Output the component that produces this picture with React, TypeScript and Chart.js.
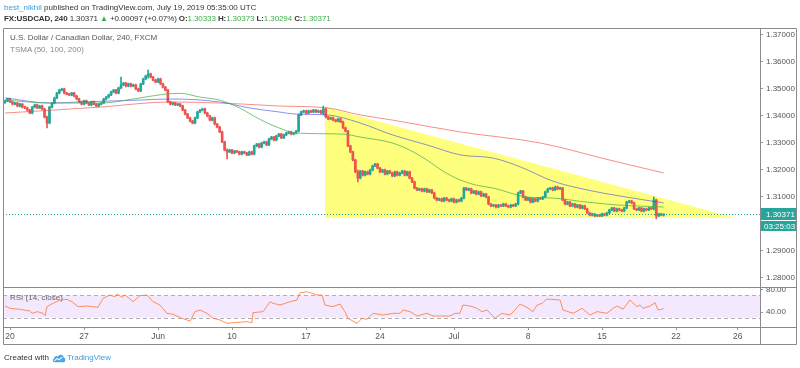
import React, { useEffect, useRef } from "react";
import { Chart, registerables } from "chart.js";

Chart.register(...registerables);

// ---------- data ----------
const closes = [
  1.3456, 1.3463, 1.3452, 1.3444, 1.3448, 1.3437, 1.3444, 1.3433, 1.3430, 1.3422,
  1.3411, 1.3433, 1.3441, 1.3430, 1.3437, 1.3426, 1.3396, 1.3374, 1.3433, 1.3448,
  1.3467, 1.3485, 1.3496, 1.3500, 1.3485, 1.3481, 1.3478, 1.3485, 1.3474, 1.3463,
  1.3452, 1.3444, 1.3456, 1.3448, 1.3441, 1.3452, 1.3444, 1.3437, 1.3444, 1.3448,
  1.3463, 1.3470, 1.3478, 1.3489, 1.3496, 1.3485, 1.3504, 1.3515, 1.3522, 1.3511,
  1.3519, 1.3511, 1.3515, 1.3500, 1.3493, 1.3519, 1.3537, 1.3548, 1.3556, 1.3544,
  1.3533, 1.3526, 1.3537, 1.3519, 1.3507, 1.3496, 1.3452, 1.3444, 1.3448, 1.3441,
  1.3444, 1.3437, 1.3422, 1.3407, 1.3393, 1.3381, 1.3374, 1.3393, 1.3415, 1.3422,
  1.3426, 1.3411, 1.3400, 1.3385, 1.3393, 1.3370, 1.3359, 1.3341, 1.3304, 1.3274,
  1.3267, 1.3274, 1.3263, 1.3270, 1.3267, 1.3259, 1.3267, 1.3263, 1.3256, 1.3267,
  1.3259, 1.3289, 1.3296, 1.3285, 1.3300, 1.3304, 1.3293, 1.3315, 1.3322, 1.3311,
  1.3326, 1.3333, 1.3319, 1.3330, 1.3337, 1.3341, 1.3333, 1.3337, 1.3344, 1.3404,
  1.3415, 1.3419, 1.3411, 1.3419, 1.3415, 1.3422, 1.3415, 1.3419, 1.3411, 1.3426,
  1.3396, 1.3389, 1.3393, 1.3385, 1.3381, 1.3389, 1.3378, 1.3356, 1.3344, 1.3289,
  1.3267, 1.3237, 1.3193, 1.3170, 1.3196, 1.3181, 1.3193, 1.3185, 1.3200, 1.3215,
  1.3222, 1.3207, 1.3193, 1.3200, 1.3185, 1.3196, 1.3189, 1.3178, 1.3193, 1.3181,
  1.3189, 1.3196, 1.3181, 1.3193, 1.3170, 1.3156, 1.3133, 1.3126, 1.3130, 1.3122,
  1.3130, 1.3119, 1.3126, 1.3115, 1.3096, 1.3089, 1.3093, 1.3085, 1.3096, 1.3089,
  1.3085, 1.3093, 1.3081, 1.3089, 1.3085, 1.3096, 1.3133, 1.3126, 1.3130, 1.3115,
  1.3122, 1.3111, 1.3119, 1.3104, 1.3111, 1.3100, 1.3074, 1.3067, 1.3070, 1.3063,
  1.3070, 1.3067, 1.3074, 1.3067, 1.3063, 1.3070, 1.3067, 1.3074, 1.3115, 1.3122,
  1.3100, 1.3089, 1.3096, 1.3081, 1.3093, 1.3085, 1.3096, 1.3093, 1.3100, 1.3119,
  1.3130, 1.3133, 1.3126, 1.3137, 1.3130, 1.3133, 1.3089, 1.3074, 1.3081, 1.3067,
  1.3074, 1.3063, 1.3070, 1.3059, 1.3067, 1.3056, 1.3041, 1.3033, 1.3037, 1.3030,
  1.3033, 1.3030, 1.3037, 1.3033, 1.3041, 1.3052, 1.3059, 1.3048, 1.3056, 1.3052,
  1.3048, 1.3059, 1.3081, 1.3085, 1.3078, 1.3056, 1.3052, 1.3059, 1.3048, 1.3056,
  1.3052, 1.3059, 1.3056, 1.3089, 1.3030, 1.3037, 1.30333, 1.30371,
];
const firstOpen = 1.3450;
const wickSize = 0.0003;
// [bar, high, low] for candles with long shadows
const wickOverrides: [number, number, number][] = [
  [17, 1.3400, 1.3356], [47, 1.3544, 1.3500], [58, 1.3570, 1.3540],
  [90, 1.3278, 1.3241], [129, 1.3437, 1.3405], [143, 1.3200, 1.3156],
  [263, 1.3100, 1.3052], [264, 1.3092, 1.3019], [267, 1.30373, 1.30294],
];

// moving averages: [bar, value]
const sma50: [number, number][] = [
  [0, 1.3459], [18, 1.3448], [38.5, 1.3448], [54.7, 1.3467], [64.8, 1.3481], [71, 1.3484],
  [79, 1.3470], [87, 1.3459], [95, 1.3430], [103, 1.3389], [111, 1.3356], [118, 1.3337],
  [137, 1.3333], [144, 1.3322], [157, 1.3300], [164, 1.3274], [171, 1.3237], [178, 1.3193],
  [184.5, 1.3163], [191, 1.3144], [198, 1.3133], [211.6, 1.3100], [222, 1.3096],
  [236, 1.3081], [249, 1.3070], [267, 1.3063],
];
const sma100: [number, number][] = [
  [0, 1.3467], [18, 1.3448], [30.4, 1.3452], [54.7, 1.3459], [67, 1.3463], [87, 1.3452],
  [99, 1.3430], [111, 1.3415], [118, 1.3407], [130.5, 1.3404], [144, 1.3374], [157, 1.3330],
  [171, 1.3293], [184.5, 1.3256], [198, 1.3244], [209, 1.3211], [222, 1.3159],
  [236, 1.3126], [249, 1.3104], [267, 1.3078],
];
const sma200: [number, number][] = [
  [0, 1.3411], [38.5, 1.3433], [67, 1.3452], [87, 1.3448], [103, 1.3441], [111, 1.3437],
  [130.5, 1.3430], [144, 1.3404], [157, 1.3385], [184.5, 1.3341], [217, 1.3300],
  [245, 1.3237], [267, 1.3189],
];

// RSI(14): [bar, value]
const rsi: [number, number][] = [
  [0, 50.9], [2, 46.7], [6, 44.9], [10, 41.8], [11, 37.6], [13, 40.6], [15.4, 37.6],
  [16.2, 33.3], [17, 49.7], [19.4, 55.8], [22.3, 61.8], [25.1, 63], [27.1, 58.7],
  [29.6, 49.7], [33.2, 50.9], [37.7, 48.5], [39.7, 64.8], [42.5, 70.9], [44.6, 67.8],
  [45.4, 72.7], [47.4, 66.7], [48.6, 70.9], [51.9, 58.7], [54.7, 69.7], [57.5, 70.9],
  [60, 58.7], [62.8, 52.7], [65.6, 37.6], [68.1, 35.8], [71.7, 28.5], [75, 23.6],
  [77, 40.6], [79, 43.6], [81.9, 37.6], [84.3, 28.5], [87.1, 25.5], [90, 19.4],
  [92.4, 20.5], [98.1, 22.4], [100.1, 20.5], [100.5, 38.8], [104.6, 40.6], [107.4, 58.7],
  [108.6, 55.8], [111.5, 52.7], [115.5, 58.7], [118.3, 61.8], [119.6, 75.1], [122.4, 76.9],
  [126.5, 70.9], [128.5, 70.9], [129.7, 52.7], [132.9, 49.7], [135.8, 54.5], [137.8, 40.6],
  [139, 28.5], [142.7, 19.4], [144.7, 28.5], [146.7, 26.7], [149.2, 37.6], [153.2, 34.5],
  [157.3, 37.6], [160.1, 37.6], [161.3, 43.6], [164.2, 40.6], [167, 32.7], [171, 37.6],
  [173.5, 32.7], [180.4, 32.7], [182.4, 37.6], [184.4, 37.6], [185.6, 52.7], [188.5, 50.9],
  [191.3, 46.7], [193.3, 40.6], [195.4, 43.6], [198.6, 28.5], [201.4, 37.6], [204.7, 34.5],
  [206.7, 43.6], [208.8, 54.5], [211.6, 48.5], [214, 40.6], [215.7, 52.7], [217.7, 55.8],
  [219.7, 63.6], [225, 61.8], [226.2, 43.6], [230.3, 37.6], [233.9, 46.7], [237.1, 34.5],
  [240, 40.6], [244, 37.6], [246.5, 46.7], [248.1, 50.9], [250.5, 44.9], [253.3, 61.8],
  [256.2, 49.7], [257.4, 52.7], [258.6, 46.7], [261.5, 50.9], [263.5, 56.9], [264.7, 43.6],
  [266.3, 44.9], [267, 46.7],
];
const rsiBand = [30, 70];

// descending-triangle drawing: [bar, price]
const triangle: [number, number][] = [
  [129.7, 1.3433], [295.9, 1.3023], [129.7, 1.3023],
];

const lastPrice = 1.30371;
const countdown = "03:25:03";

const timeLabels = ["20", "27", "Jun", "10", "17", "24", "Jul", "8", "15", "22", "26"];
const timeBars = [2, 32, 62, 92, 122, 152, 182, 212, 242, 272, 297];
const priceTicks = [1.28, 1.29, 1.31, 1.32, 1.33, 1.34, 1.35, 1.36, 1.37];
const rsiTicks = [40, 80];

// ---------- styling ----------
const UP = "#26a69a";
const DOWN = "#ef5350";
const FONT = "'Liberation Sans', Arial, sans-serif";

const overlayPlugin = {
  id: "overlay",
  beforeDatasetsDraw(chart: any) {
    const { ctx, chartArea } = chart;
    const xs = chart.scales.x, ys = chart.scales.y, yr = chart.scales.yR;
    ctx.save();
    const yTop = yr.getPixelForValue(rsiBand[1]);
    const yBot = yr.getPixelForValue(rsiBand[0]);
    ctx.fillStyle = "#f3e8fd";
    ctx.fillRect(chartArea.left, yTop, chartArea.right - chartArea.left, yBot - yTop);
    ctx.strokeStyle = "#b0b0b0";
    ctx.lineWidth = 1;
    ctx.setLineDash([4, 3]);
    ctx.beginPath();
    ctx.moveTo(chartArea.left, Math.round(yTop) + 0.5);
    ctx.lineTo(chartArea.right, Math.round(yTop) + 0.5);
    ctx.moveTo(chartArea.left, Math.round(yBot) + 0.5);
    ctx.lineTo(chartArea.right, Math.round(yBot) + 0.5);
    ctx.stroke();
    ctx.setLineDash([]);
    ctx.beginPath();
    ctx.rect(chartArea.left, ys.top, chartArea.right - chartArea.left, ys.bottom - ys.top);
    ctx.clip();
    ctx.fillStyle = "rgba(255, 255, 20, 0.55)";
    ctx.beginPath();
    triangle.forEach(([b, p], i) => {
      const px = xs.getPixelForValue(b), py = ys.getPixelForValue(p);
      if (i === 0) ctx.moveTo(px, py); else ctx.lineTo(px, py);
    });
    ctx.closePath();
    ctx.fill();
    ctx.restore();
  },
  afterDatasetsDraw(chart: any) {
    const { ctx, chartArea } = chart;
    const ys = chart.scales.y;
    const y = Math.round(ys.getPixelForValue(lastPrice)) + 0.5;
    ctx.save();
    ctx.strokeStyle = UP;
    ctx.lineWidth = 1;
    ctx.setLineDash([1, 2]);
    ctx.beginPath();
    ctx.moveTo(chartArea.left, y);
    ctx.lineTo(chartArea.right, y);
    ctx.stroke();
    ctx.restore();
  },
  afterDraw(chart: any) {
    const { ctx, chartArea } = chart;
    const ys = chart.scales.y, yr = chart.scales.yR, xs = chart.scales.x;
    const L = 3.5, R = 796.5;
    const axisX = Math.round(chartArea.right) + 0.5;
    const sep = Math.round(ys.bottom) + 0.5;
    const top = Math.round(ys.top) + 0.5;
    const rsiBottom = Math.round(yr.bottom) + 0.5;
    const bottom = Math.round(xs.bottom) + 0.5;
    ctx.save();
    ctx.strokeStyle = "#8a8a8a";
    ctx.lineWidth = 1;
    ctx.beginPath();
    ctx.moveTo(L, top); ctx.lineTo(R, top);
    ctx.moveTo(L, sep); ctx.lineTo(R, sep);
    ctx.moveTo(L, rsiBottom); ctx.lineTo(R, rsiBottom);
    ctx.moveTo(L, bottom); ctx.lineTo(R, bottom);
    ctx.moveTo(L, top); ctx.lineTo(L, bottom);
    ctx.moveTo(R, top); ctx.lineTo(R, bottom);
    ctx.moveTo(axisX, top); ctx.lineTo(axisX, bottom);
    ctx.stroke();
    const py = Math.round(ys.getPixelForValue(lastPrice));
    const bx = axisX + 0.5, bw = R - 0.5 - bx;
    ctx.fillStyle = UP;
    ctx.fillRect(bx, py - 6, bw, 12);
    ctx.fillRect(bx, py + 7, bw, 10);
    ctx.fillStyle = "#ffffff";
    ctx.font = `8px ${FONT}`;
    ctx.textBaseline = "middle";
    ctx.textAlign = "left";
    ctx.fillText(lastPrice.toFixed(5), bx + 5, py + 0.5);
    ctx.fillText(countdown, bx + 3, py + 12.5);
    ctx.restore();
  },
};

export default function App() {
  const ref = useRef<HTMLCanvasElement | null>(null);

  useEffect(() => {
    document.body.style.margin = "0";
    const opens = closes.map((_, i) => (i === 0 ? firstOpen : closes[i - 1]));
    const highs = closes.map((c, i) => Math.max(c, opens[i]) + wickSize);
    const lows = closes.map((c, i) => Math.min(c, opens[i]) - wickSize);
    wickOverrides.forEach(([b, h, l]) => { highs[b] = h; lows[b] = l; });
    const colors = closes.map((c, i) => (c >= opens[i] ? UP : DOWN));

    const pane = { top: 28, sep: 287, rsiBottom: 327 };
    const pxPerUnit = 2700;
    const yMax = 1.30 + (224 - pane.top) / pxPerUnit;
    const yMin = 1.30 - (pane.sep - 224) / pxPerUnit;

    const chart = new Chart(ref.current as HTMLCanvasElement, {
      type: "bar",
      data: {
        datasets: [
          {
            type: "line", label: "SMA 50", data: sma50.map(([x, y]) => ({ x, y })),
            borderColor: "rgba(76, 175, 80, 0.75)", borderWidth: 1, pointRadius: 0,
            cubicInterpolationMode: "monotone", xAxisID: "x", yAxisID: "y", order: 1,
          } as any,
          {
            type: "line", label: "SMA 100", data: sma100.map(([x, y]) => ({ x, y })),
            borderColor: "rgba(70, 70, 230, 0.6)", borderWidth: 1, pointRadius: 0,
            cubicInterpolationMode: "monotone", xAxisID: "x", yAxisID: "y", order: 1,
          } as any,
          {
            type: "line", label: "SMA 200", data: sma200.map(([x, y]) => ({ x, y })),
            borderColor: "rgba(244, 67, 54, 0.6)", borderWidth: 1, pointRadius: 0,
            cubicInterpolationMode: "monotone", xAxisID: "x", yAxisID: "y", order: 1,
          } as any,
          {
            type: "bar", label: "wicks",
            data: closes.map((_, i) => ({ x: i, y: [lows[i], highs[i]] })),
            backgroundColor: colors, barThickness: 1, grouped: false,
            xAxisID: "x", yAxisID: "y", order: 3,
          } as any,
          {
            type: "bar", label: "USDCAD",
            data: closes.map((c, i) => ({ x: i, y: [opens[i], c] })),
            backgroundColor: colors, barThickness: 2, grouped: false, minBarLength: 1,
            xAxisID: "x", yAxisID: "y", order: 2,
          } as any,
          {
            type: "line", label: "RSI (14, close)", data: rsi.map(([x, y]) => ({ x, y })),
            borderColor: "rgba(255, 120, 50, 0.8)", borderWidth: 1, pointRadius: 0,
            tension: 0, xAxisID: "x", yAxisID: "yR", order: 0,
          } as any,
        ],
      },
      options: {
        animation: false,
        responsive: false,
        devicePixelRatio: 1,
        layout: { padding: { left: 3, right: 3, top: pane.top, bottom: 24 } },
        plugins: { legend: { display: false }, tooltip: { enabled: false } },
        scales: {
          x: {
            type: "linear",
            min: -0.84,
            max: 306.05,
            offset: false,
            position: "bottom",
            afterFit: (s: any) => { s.height = 17; },
            afterBuildTicks: (s: any) => { s.ticks = timeBars.map((v) => ({ value: v })); },
            ticks: {
              autoSkip: false, maxRotation: 0, padding: 2, color: "#555",
              font: { size: 8.5, family: FONT },
              callback: (_v: any, i: number) => timeLabels[i],
            },
            grid: { drawOnChartArea: false, tickLength: 3, color: "#999", offset: false },
            border: { display: false },
          },
          y: {
            type: "linear",
            position: "right",
            stack: "panes",
            stackWeight: pane.sep - pane.top,
            min: yMin,
            max: yMax,
            afterFit: (s: any) => { s.width = 37; },
            afterBuildTicks: (s: any) => { s.ticks = priceTicks.map((v) => ({ value: v })); },
            ticks: {
              padding: 3, color: "#555", font: { size: 8, family: FONT },
              callback: (v: any) => Number(v).toFixed(5),
            },
            grid: { drawOnChartArea: false, tickLength: 3, color: "#999" },
            border: { display: false },
          },
          yR: {
            type: "linear",
            position: "right",
            stack: "panes",
            stackWeight: pane.rsiBottom - pane.sep,
            min: 12.73,
            max: 85.45,
            afterFit: (s: any) => { s.width = 37; },
            afterBuildTicks: (s: any) => { s.ticks = rsiTicks.map((v) => ({ value: v })); },
            ticks: {
              padding: 3, color: "#555", font: { size: 8, family: FONT },
              callback: (v: any) => Number(v).toFixed(2),
            },
            grid: { drawOnChartArea: false, tickLength: 3, color: "#999" },
            border: { display: false },
          },
        },
      } as any,
      plugins: [overlayPlugin],
    });
    return () => chart.destroy();
  }, []);

  const text: React.CSSProperties = {
    position: "absolute", fontFamily: FONT, fontSize: 8, whiteSpace: "nowrap", lineHeight: "11px",
  };
  const green = { color: "#3fae49" };

  return (
    <div style={{ position: "fixed", left: 0, top: 0, width: 800, height: 368, background: "#fff", overflow: "hidden" }}>
      <canvas ref={ref} width={800} height={368} style={{ position: "absolute", left: 0, top: 0, width: 800, height: 368 }} />
      <div style={{ ...text, left: 4, top: 2, color: "#333" }}>
        <span style={{ color: "#3d9ddf" }}>best_nikhil</span> published on TradingView.com, July 19, 2019 05:35:00 UTC
      </div>
      <div style={{ ...text, left: 4, top: 13, color: "#333", letterSpacing: "-0.1px" }}>
        <b>FX:USDCAD, 240</b> 1.30371 <span style={green}>▲</span> +0.00097 (+0.07%) <b>O:</b>
        <span style={green}>1.30333</span> <b>H:</b><span style={green}>1.30373</span> <b>L:</b>
        <span style={green}>1.30294</span> <b>C:</b><span style={green}>1.30371</span>
      </div>
      <div style={{ ...text, left: 10, top: 32, color: "#555" }}>U.S. Dollar / Canadian Dollar, 240, FXCM</div>
      <div style={{ ...text, left: 10, top: 44, color: "#888" }}>TSMA (50, 100, 200)</div>
      <div style={{ ...text, left: 10, top: 292, color: "#666" }}>RSI (14, close)</div>
      <div style={{ ...text, left: 4, top: 352, color: "#333", display: "flex", alignItems: "center" }}>
        <span>Created with</span>
        <svg width="14" height="10" viewBox="0 0 15 10" style={{ margin: "0 1px 0 3px" }}>
          <path d="M3 9.5 C0.5 9.5 0 6.5 2.2 5.8 C2.2 3 5 2 6.5 3.5 C7.5 0.5 12.5 1 12.5 4.5 C14.8 4.8 14.8 9.5 12.5 9.5 Z" fill="#49a6e4" />
          <path d="M2.5 8 L5.5 5.5 L7.5 7 L11 4" stroke="#fff" strokeWidth="1.1" fill="none" />
        </svg>
        <span style={{ color: "#3d9ddf" }}>TradingView</span>
      </div>
    </div>
  );
}
